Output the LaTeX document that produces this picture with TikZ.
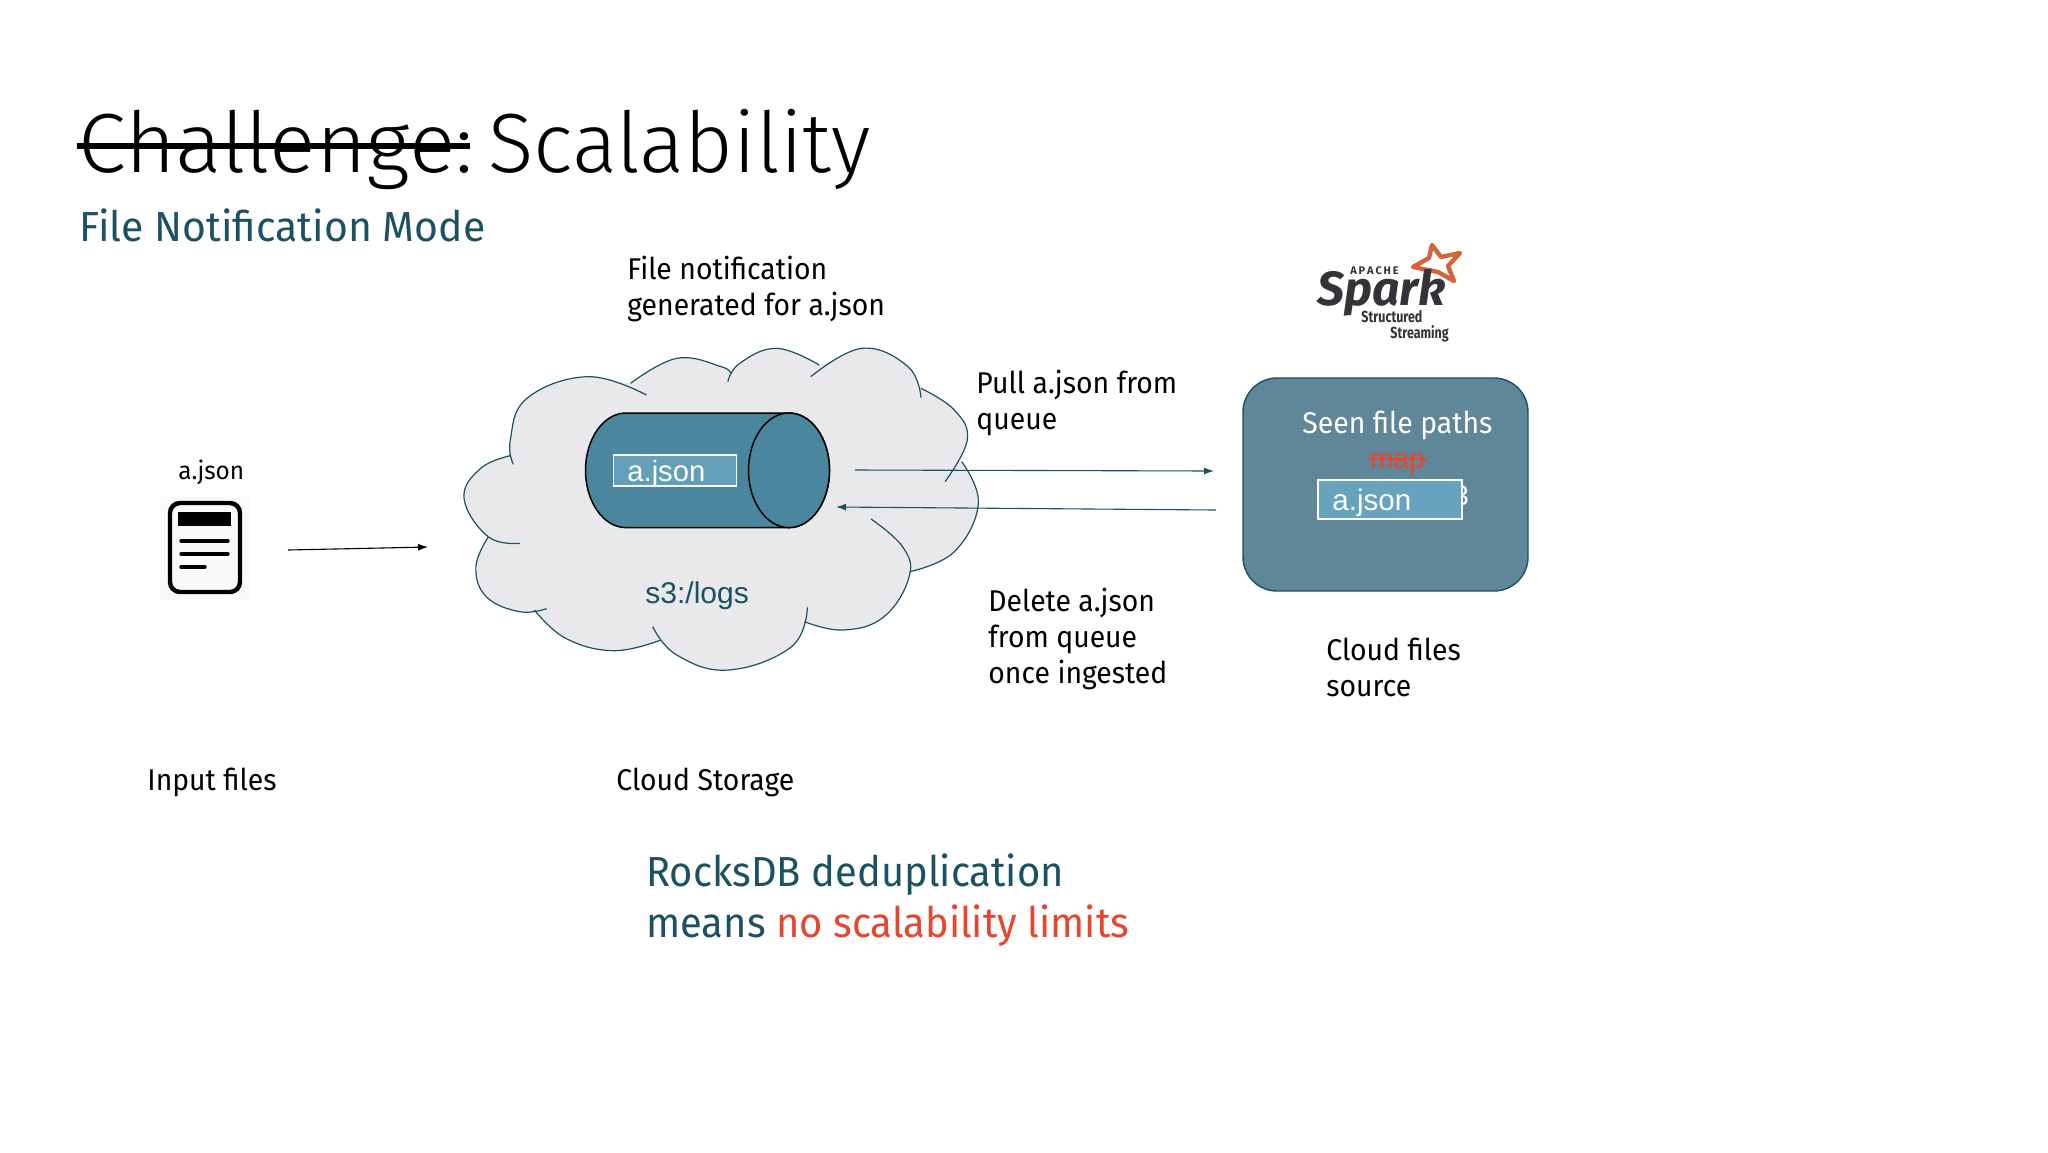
\documentclass[tikz,border=0pt]{standalone}
\usepackage{fontspec}
\setmainfont{Fira Sans}[FakeStretch=0.945]
\newfontfamily\titlef{Fira Sans Light}[FakeStretch=1.0]
\newfontfamily\titleg{Fira Sans Light}[FakeStretch=1.03]
\newfontfamily\subf{Fira Sans}[FakeStretch=0.975]
\newfontfamily\rockf{Fira Sans}[FakeStretch=0.95]
\newfontfamily\arialf{Liberation Sans}
\newfontfamily\logof{Fira Sans}
\newfontfamily\logoc{Fira Sans}[FakeStretch=0.78]
\usetikzlibrary{arrows.meta,shapes.geometric}
\definecolor{teal}{HTML}{1B5162}
\definecolor{cloudfill}{HTML}{E9E9EB}
\definecolor{cyl}{HTML}{4A879F}
\definecolor{boxfill}{HTML}{60869A}
\definecolor{tagfill}{HTML}{67A3BD}
\definecolor{redt}{HTML}{E8442E}
\definecolor{sparkor}{HTML}{D2653A}
\definecolor{sparkdk}{HTML}{333338}
\newcommand{\fs}[1]{\fontsize{#1}{#1}\selectfont}
\newcommand{\fillarc}[1]{\fill[cloudfill] plot[smooth,tension=.7] coordinates {#1};}
\newcommand{\drawarc}[1]{\draw[cloudline] plot[smooth,tension=.7] coordinates {#1};}
\newcommand{\allarcs}[1]{%
#1{(198,403)(190,330)(235,205)(400,140)(558,195)}
#1{(515,160)(640,85)(760,110)(785,130)}
#1{(778,155)(810,100)(910,55)(1025,105)}
#1{(1002,140)(1140,55)(1265,110)(1300,203)}
#1{(1300,175)(1390,240)(1425,330)(1365,455)}
#1{(1410,395)(1455,520)(1390,665)(1270,725)}
#1{(1165,567)(1250,650)(1268,740)(1200,860)(1090,900)(985,875)}
#1{(993,832)(950,950)(780,1020)(640,975)(575,890)}
#1{(597,930)(470,962)(340,925)(255,840)}
#1{(288,836)(215,845)(125,800)(97,710)(130,622)}
#1{(216,640)(130,620)(65,505)(110,415)(190,377)}}
\tikzset{
  lab/.style={anchor=base west,inner sep=0pt,text=black,align=left},
  cloudline/.style={draw=teal,line width=.6pt},
  conn/.style={-{Latex[length=5pt,width=3.5pt]},line width=.55pt},
}
\begin{document}
\begin{tikzpicture}[x=.5pt,y=-.5pt]
\useasboundingbox (0,0) rectangle (2048,1152);
\fill[white] (0,0) rectangle (2048,1152);
% title
\node[lab] (t1) at (78,172) {\titleg\fs{42}Challenge:};
\node[lab] (t2) at (488,172) {\titlef\fs{42}Scalability};
\coordinate (s1) at (77,146);
\coordinate (s2) at (470,146);
\draw[line width=3.4pt] (s1) -- (s2);
\node[lab,text=teal] (t3) at (79,241) {\subf\fs{21}File Notification Mode};
\node[lab] (l1) at (627,279) {\fs{15}File notification};
\node[lab] (l2) at (627,315) {\fs{15}generated for a.json};
% cloud
\begin{scope}[shift={(440,330)},x=.185pt,y=-.16667pt]
\allarcs{\fillarc}
\fill[cloudfill] (190,377) -- (400,145) -- (515,160) -- (640,90) -- (785,130) -- (910,60) -- (1025,105) -- (1140,60) -- (1300,175) -- (1400,260) -- (1410,395) -- (1450,520) -- (1270,725) -- (1265,740) -- (1090,895) -- (985,875) -- (780,1015) -- (597,930) -- (470,955) -- (255,840) -- (215,840) -- (100,710) -- (130,622) -- (70,505) -- cycle;
\allarcs{\drawarc}
\end{scope}
% cylinder
\path[fill=cyl,draw=black,line width=.75pt] (626,413) -- (789,413) arc[start angle=-90,end angle=90,x radius=40.5,y radius=57.3] -- (626,527.6) arc[start angle=90,end angle=270,x radius=40.5,y radius=57.3] -- cycle;
\node[draw=black,fill=cyl,line width=.75pt,ellipse,minimum width=40.5pt,minimum height=57.3pt,inner sep=0pt] (cylend) at (789,470.3) {};
\node[draw=white,fill=tagfill!85!cyl,line width=.6pt,minimum width=61.5pt,minimum height=15.5pt,inner sep=0pt] (tag1) at (675,470.5) {};
\node[anchor=base west,inner sep=0pt,text=white] (tag1t) at (627,481) {\arialf\fs{14.6}a.json};
\node[anchor=base west,inner sep=0pt,text=teal] (s3) at (645,603) {\arialf\fs{15}s3:/logs};
% file icon
\fill[black!2] (160,497) rectangle (250,600);
\draw[line width=2.2pt,rounded corners=5pt] (170,503) rectangle (240,592);
\fill (178,512) rectangle (231,526);
\draw[line width=1.6pt,line cap=round] (181,541) -- (228,541) (181,554) -- (228,554) (181,567) -- (205,567);
\node[lab] (fn) at (178,479) {\subf\fs{12.5}a.json};
% arrows
\coordinate (a1s) at (288,550);
\coordinate (a1e) at (428,547);
\draw[conn] (a1s) -- (a1e);
\coordinate (a2s) at (855,470);
\coordinate (a2e) at (1214,471);
\draw[conn,teal] (a2s) -- (a2e);
\coordinate (a3s) at (1216,510);
\coordinate (a3e) at (836,507);
\draw[conn,teal] (a3s) -- (a3e);
% labels
\node[lab] at (976,393) {\fs{15}Pull a.json from};
\node[lab] at (976,429) {\fs{15}queue};
\node[lab] at (988,611) {\fs{15}Delete a.json};
\node[lab] at (988,647) {\fs{15}from queue};
\node[lab] at (988,683) {\fs{15}once ingested};
\node[lab] at (1326,660) {\fs{15}Cloud files};
\node[lab] at (1326,696) {\fs{15}source};
\node[lab] at (147,790) {\fs{15}Input files};
\node[lab] at (616,790) {\fs{15}Cloud Storage};
% box
\node[draw=teal,fill=boxfill,line width=.7pt,rounded corners=17pt,minimum width=142.5pt,minimum height=106.5pt,inner sep=0pt] (box) at (1385.5,484.5) {};
\node[lab,text=white] (seen) at (1302,433) {\fs{15}Seen file paths};
\node[lab,text=redt] (map) at (1370,468) {\arialf\fs{14}map};
\draw[redt,line width=.6pt] (1369,459) -- (1427,459);
\node[anchor=base west,inner sep=0pt,text=white] (three) at (1453,505) {\arialf\fs{14}3};
\node[draw=white,fill=tagfill,line width=.6pt,minimum width=72pt,minimum height=19.5pt,inner sep=0pt] (tag2) at (1390,499.5) {};
\node[anchor=base west,inner sep=0pt,text=white] (tag2t) at (1332,510) {\arialf\fs{14.8}a.json};
% spark logo
\draw[sparkor,line width=2.2pt,line join=round] (1432,245) -- (1441,257) -- (1460,253) -- (1448,266) -- (1454,281) -- (1438,272) -- (1413,267) -- (1429,258) -- cycle;
\node[anchor=base west,inner sep=0pt,text=sparkdk] (spark) at (1317,305) {\logof\bfseries\itshape\fs{24}Spark};
\node[anchor=base west,inner sep=0pt,text=sparkdk] (ap) at (1350,274) {\logof\fs{5.5}\textbf{A\,P\,A\,C\,H\,E}};
\node[anchor=base west,inner sep=0pt,text=sparkdk] (st1) at (1361,322) {\logoc\fs{8}\textbf{Structured}};
\node[anchor=base west,inner sep=0pt,text=sparkdk] (st2) at (1390,338) {\logoc\fs{8}\textbf{Streaming}};
% bottom
\node[lab,text=teal] at (646,886) {\rockf\fs{21}RocksDB deduplication};
\node[lab,text=teal] (m) at (646,937) {\rockf\fs{21}means \textcolor{redt}{no scalability limits}};
\end{tikzpicture}
\end{document}
